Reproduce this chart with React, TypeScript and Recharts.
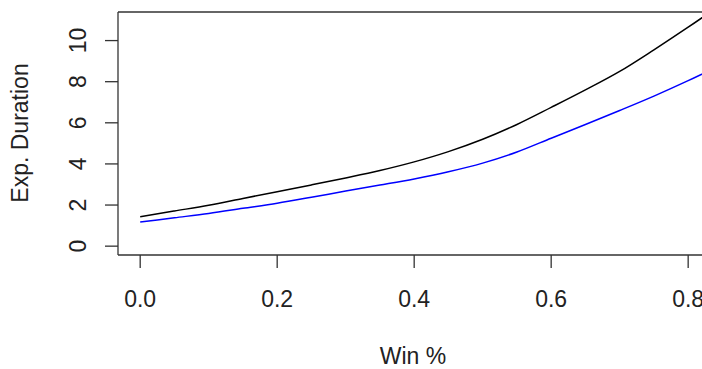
import React from "react";
import { LineChart, Line, XAxis, YAxis, ReferenceLine } from "recharts";

const winPct = [0, 0.05, 0.1, 0.15, 0.2, 0.25, 0.3, 0.35, 0.4, 0.45, 0.5, 0.55, 0.6, 0.65, 0.7, 0.75, 0.8, 0.85];
const durationBlack = [1.43, 1.71, 1.99, 2.32, 2.65, 2.98, 3.32, 3.68, 4.1, 4.6, 5.2, 5.92, 6.75, 7.6, 8.5, 9.55, 10.65, 11.8];
const durationBlue = [1.17, 1.38, 1.59, 1.84, 2.09, 2.38, 2.68, 2.97, 3.27, 3.62, 4.04, 4.58, 5.25, 5.92, 6.6, 7.3, 8.05, 8.85];
const xTicks = [0, 0.2, 0.4, 0.6, 0.8];
const xTickLabels = ["0.0", "0.2", "0.4", "0.6", "0.8"];
const yTicks = [0, 2, 4, 6, 8, 10];

const X_DOMAIN: [number, number] = [-0.0324, 0.8202];
const Y_DOMAIN: [number, number] = [-0.43, 11.39];

const data = winPct.map((x, i) => ({ x, black: durationBlack[i], blue: durationBlue[i] }));

const FONT = "'Liberation Sans', Arial, sans-serif";
const FS = 23;
const TEXT = "#222";

const XTick = (props: any) => {
  const { x, y, payload } = props;
  const idx = xTicks.indexOf(payload.value);
  return (
    <g>
      <line x1={x} x2={x} y1={y} y2={y + 13} stroke="#333" strokeWidth={1.3} />
      <text x={x} y={y + 52} textAnchor="middle" fontFamily={FONT} fontSize={FS} fill={TEXT}>
        {idx >= 0 ? xTickLabels[idx] : payload.value}
      </text>
    </g>
  );
};

const YTick = (props: any) => {
  const { x, y, payload } = props;
  const tx = x - 32;
  return (
    <g>
      <line x1={x - 13} x2={x} y1={y} y2={y} stroke="#333" strokeWidth={1.3} />
      <text x={tx} y={y} transform={`rotate(-90, ${tx}, ${y})`} textAnchor="middle" fontFamily={FONT} fontSize={FS} fill={TEXT}>
        {payload.value}
      </text>
    </g>
  );
};

export default function App() {
  return (
    <div style={{ position: "absolute", left: 0, top: 0, width: 702, height: 369, background: "#fff" }}>
      <LineChart width={702} height={369} data={data} margin={{ top: 12, right: 0, bottom: 0, left: 0 }}>
        <XAxis
          type="number"
          dataKey="x"
          domain={X_DOMAIN}
          ticks={xTicks}
          allowDataOverflow
          height={114}
          tickLine={false}
          tickSize={0}
          tickMargin={0}
          tick={<XTick />}
          axisLine={{ stroke: "#333", strokeWidth: 1.3 }}
          interval={0}
        />
        <YAxis
          type="number"
          domain={Y_DOMAIN}
          ticks={yTicks}
          allowDataOverflow
          width={118}
          tickLine={false}
          tickSize={0}
          tickMargin={0}
          tick={<YTick />}
          axisLine={{ stroke: "#333", strokeWidth: 1.3 }}
          interval={0}
        />
        <ReferenceLine y={Y_DOMAIN[1]} stroke="#333" strokeWidth={1.3} ifOverflow="extendDomain" />
        <Line type="monotone" dataKey="black" stroke="#000000" strokeWidth={1.5} dot={false} isAnimationActive={false} />
        <Line type="monotone" dataKey="blue" stroke="#0000ff" strokeWidth={1.5} dot={false} isAnimationActive={false} />
        <text x={413} y={364} textAnchor="middle" fontFamily={FONT} fontSize={FS} fill={TEXT}>
          Win %
        </text>
        <text x={28} y={133} transform="rotate(-90, 28, 133)" textAnchor="middle" fontFamily={FONT} fontSize={FS} fill={TEXT}>
          Exp. Duration
        </text>
      </LineChart>
    </div>
  );
}
